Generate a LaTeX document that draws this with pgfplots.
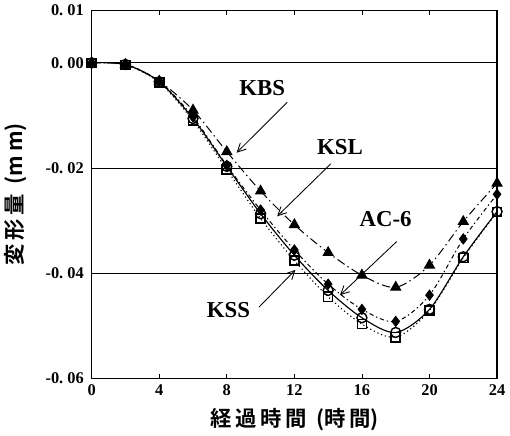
\documentclass[border=0pt]{standalone}
\usepackage{pgfplots}
\pgfplotsset{compat=1.18}
\usepackage{fontspec}
\setmainfont{Liberation Serif}
\newfontfamily\cjk{Noto Sans CJK JP}[BoldFont={Noto Sans CJK JP Bold}]
\usetikzlibrary{arrows.meta}
\begin{document}
\begin{tikzpicture}
\begin{axis}[
  scale only axis,
  width=10cm, height=9.075cm,
  xmin=0, xmax=24, ymin=-0.06, ymax=0.01,
  scaled y ticks=false,
  xtick={0,4,8,12,16,20,24},
  xticklabels={0,4,8,12,16,20,24},
  ytick={-0.06,-0.04,-0.02,0,0.01},
  yticklabels={-0.\ 06,-0.\ 04,-0.\ 02,0.\ 00,0.\ 01},
  ymajorgrids, grid style={black, line width=0.6pt},
  tick align=inside, tick style={black, line width=0.5pt},
  major tick length=3pt,
  ytick style={draw=none},
  axis line style={line width=0.9pt},
  ticklabel style={font=\fontsize{11.5}{12}\selectfont\bfseries},
  xticklabel style={yshift=-1pt},
  yticklabel style={xshift=-2pt},
  xlabel={\cjk\bfseries 経\,過\,時\,間\ \ (時\,間)},
  ylabel={\cjk\bfseries 変\,形\,量\ \ (m\,m)},
  label style={font=\fontsize{15}{15}\selectfont},
  xlabel style={yshift=-2pt},
  ylabel style={yshift=6pt},
  clip=false,
]
% KBS
\addplot[black, line width=0.7pt, dash pattern=on 6pt off 2.5pt on 1pt off 2.5pt, smooth,
  mark=triangle*, mark size=4pt, mark options={solid, fill=black}] coordinates {
  (0,0) (2,-0.0003) (4,-0.0035) (6,-0.0090) (8,-0.0169) (10,-0.0244) (12,-0.0308)
  (14,-0.0361) (16,-0.0404) (18,-0.0427) (20,-0.0385) (22,-0.0302) (24,-0.0229)};
% KSL
\addplot[black, line width=0.7pt, dash pattern=on 3pt off 2pt on 1pt off 2pt, smooth,
  mark=diamond*, mark size=3.5pt, mark options={solid, fill=black}] coordinates {
  (0,0) (2,-0.0003) (4,-0.0035) (6,-0.0103) (8,-0.0195) (10,-0.0280) (12,-0.0356)
  (14,-0.0421) (16,-0.0469) (18,-0.0492) (20,-0.0442) (22,-0.0335) (24,-0.0250)};
% AC-6
\addplot[black, line width=0.8pt, solid, smooth,
  mark=o, mark size=3.5pt, mark options={solid, fill=white, line width=1pt}] coordinates {
  (0,0) (2,-0.0003) (4,-0.0036) (6,-0.0106) (8,-0.0197) (10,-0.0287) (12,-0.0366)
  (14,-0.0433) (16,-0.0485) (18,-0.0513) (20,-0.0469) (22,-0.0369) (24,-0.0283)};
% KSS
\addplot[black, line width=0.8pt, dotted, smooth,
  mark=square, mark size=3.2pt, mark options={solid, fill=white, line width=1.1pt}] coordinates {
  (0,0) (2,-0.0004) (4,-0.0037) (6,-0.0110) (8,-0.0203) (10,-0.0296) (12,-0.0376)
  (14,-0.0445) (16,-0.0497) (18,-0.0522) (20,-0.0471) (22,-0.0371) (24,-0.0284)};

\tikzset{lab/.style={font=\fontsize{16}{16}\selectfont\bfseries}, arr/.style={-{Straight Barb[length=6pt,width=6pt]}, line width=0.6pt}}
\node[lab] at (axis cs:10.1,-0.0048) {KBS};
\draw[arr] (axis cs:11.58,-0.0075) -- (axis cs:8.58,-0.0171);
\node[lab] at (axis cs:14.7,-0.0161) {KSL};
\draw[arr] (axis cs:14.16,-0.0192) -- (axis cs:10.98,-0.0292);
\node[lab] at (axis cs:17.4,-0.0298) {AC-6};
\draw[arr] (axis cs:18.06,-0.0340) -- (axis cs:14.7,-0.0442);
\node[lab] at (axis cs:8.1,-0.0471) {KSS};
\draw[arr] (axis cs:9.9,-0.0465) -- (axis cs:12.06,-0.0394);
\end{axis}
\end{tikzpicture}
\end{document}
